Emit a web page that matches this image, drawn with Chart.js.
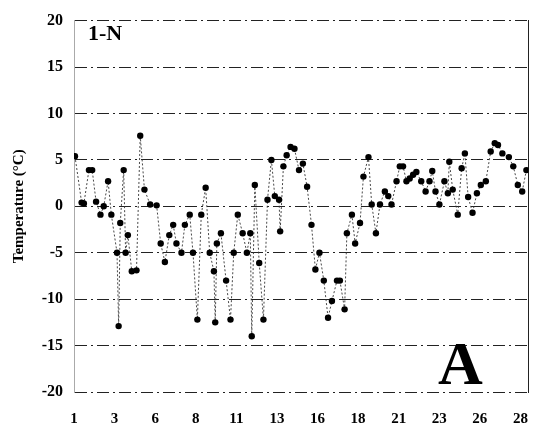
<!DOCTYPE html>
<html>
<head>
<meta charset="utf-8">
<script src="https://cdn.jsdelivr.net/npm/chart.js@4.4.1/dist/chart.umd.min.js"></script>
<style>
  body { margin: 0; background: #fff; }
  #wrap { width: 538px; height: 429px; }
</style>
</head>
<body>
<div id="wrap"><canvas id="grafik" width="538" height="429"></canvas></div>
<script>
// hari (sumbu x) dan suhu (°C)
const hari = [1.06, 1.47, 1.61, 1.92, 2.12, 2.36, 2.63, 2.83, 3.10, 3.30, 3.65, 3.75, 3.85, 4.06, 4.18, 4.32,
  4.56, 4.85, 5.08, 5.34, 5.69, 6.09, 6.34, 6.60, 6.87, 7.11, 7.31, 7.62, 7.83, 8.13, 8.33, 8.60,
  8.84, 9.11, 9.36, 9.62, 9.70, 9.80, 10.05, 10.37, 10.64, 10.84, 11.09, 11.39, 11.65, 11.86, 11.95,
  12.14, 12.41, 12.67, 12.92, 13.16, 13.37, 13.63, 13.70, 13.90, 14.10, 14.34, 14.58, 14.86, 15.10,
  15.36, 15.63, 15.87, 16.12, 16.39, 16.65, 16.89, 17.20, 17.38, 17.67, 17.81, 18.12, 18.32, 18.62,
  18.83, 19.14, 19.34, 19.60, 19.85, 20.15, 20.36, 20.56, 20.87, 21.07, 21.27, 21.48, 21.68, 21.89,
  22.09, 22.39, 22.66, 22.90, 23.07, 23.27, 23.51, 23.82, 24.03, 24.12, 24.33, 24.64, 24.88, 25.08,
  25.28, 25.55, 25.82, 26.06, 26.37, 26.67, 26.92, 27.12, 27.39, 27.79, 28.06, 28.34, 28.61, 28.87];
const suhu = [5.4, 0.4, 0.3, 3.9, 3.9, 0.5, -0.9, 0, 2.7, -0.9, -5, -12.9, -1.8, 3.9, -5, -3.1,
  -7, -6.9, 7.6, 1.8, 0.2, 0.1, -4, -6, -3.1, -2, -4, -5, -2, -0.9, -5, -12.2,
  -0.9, 2, -5, -7, -12.5, -4, -2.9, -8, -12.2, -5, -0.9, -2.9, -5, -2.9, -14,
  2.3, -6.1, -12.2, 0.7, 5, 1.1, 0.7, -2.7, 4.3, 5.5, 6.4, 6.2, 3.9, 4.6,
  2.1, -2, -6.8, -5, -8, -12, -10.2, -8, -8, -11.1, -2.9, -0.9, -4, -1.8,
  3.2, 5.3, 0.2, -2.9, 0.2, 1.6, 1.1, 0.2, 2.7, 4.3, 4.3, 2.7, 3, 3.4,
  3.7, 2.7, 1.6, 2.7, 3.8, 1.6, 0.2, 2.7, 1.4, 4.8, 1.8, -0.9, 4.1, 5.7,
  1, -0.7, 1.4, 2.3, 2.7, 5.9, 6.8, 6.6, 5.7, 5.3, 4.3, 2.3, 1.6, 3.9];

const posisiTickX = [1, 3.5, 6, 8.5, 11, 13.5, 16, 18.5, 21, 23.5, 26, 28.5];
const labelTickX = ['1', '3', '6', '8', '11', '13', '16', '18', '21', '23', '26', '28'];
const tickY = [20, 15, 10, 5, 0, -5, -10, -15, -20];

const fontSerif = 'Liberation Serif, Times New Roman, serif';

const teksPanel = {
  id: 'teksPanel',
  afterDraw(chart) {
    const ctx = chart.ctx;
    ctx.save();
    ctx.fillStyle = '#000';
    ctx.textAlign = 'left';
    ctx.textBaseline = 'alphabetic';
    ctx.font = 'bold 22px ' + fontSerif;
    ctx.fillText('1-N', 88, 40);
    ctx.font = 'bold 62px ' + fontSerif;
    ctx.fillText('A', 438, 384);
    ctx.restore();
  }
};

function gambarGrafik() {
  const grafik = document.getElementById('grafik').getContext('2d');
  const titik = hari.map((h, i) => ({ x: h, y: suhu[i] }));

  window.myChart = new Chart(grafik, {
    type: 'scatter',
    data: {
      datasets: [{
        label: 'Temperature',
        data: titik,
        showLine: true,
        borderColor: '#333',
        borderWidth: 0.9,
        borderDash: [2, 2],
        backgroundColor: '#000',
        pointRadius: 3.2,
        pointBorderWidth: 0,
        pointBackgroundColor: '#000'
      }]
    },
    options: {
      responsive: false,
      animation: false,
      layout: { padding: { top: 16, right: 0, left: 0, bottom: 0 } },
      plugins: { legend: { display: false }, tooltip: { enabled: false } },
      scales: {
        x: {
          type: 'linear',
          min: 1,
          max: 29,
          afterBuildTicks: (scale) => {
            scale.ticks = posisiTickX.map(v => ({ value: v }));
          },
          afterFit: (scale) => { scale.height = 37; },
          ticks: {
            color: '#000',
            padding: 10,
            font: { family: fontSerif, size: 15, weight: 'bold' },
            callback: (value, index) => labelTickX[index]
          },
          grid: { display: false },
          border: { display: false }
        },
        y: {
          min: -20,
          max: 20,
          afterBuildTicks: (scale) => {
            scale.ticks = tickY.map(v => ({ value: v }));
          },
          afterFit: (scale) => { scale.width = 74; },
          ticks: {
            color: '#000',
            padding: 11,
            font: { family: fontSerif, size: 16, weight: 'bold' }
          },
          title: {
            display: true,
            text: 'Temperature (°C)',
            color: '#000',
            padding: { top: 10, bottom: 0 },
            font: { family: fontSerif, size: 15, weight: 'bold' }
          },
          grid: { color: '#222', lineWidth: 1, drawTicks: false },
          border: { display: true, color: '#aaa', dash: [12, 4, 2, 4] }
        },
        kanan: {
          position: 'right',
          min: -20,
          max: 20,
          afterFit: (scale) => { scale.width = 5; },
          ticks: { display: false },
          grid: { display: false, drawTicks: false },
          border: { display: true, color: '#222', dash: [4, 3] }
        }
      }
    },
    plugins: [teksPanel]
  });
}

gambarGrafik();
</script>
</body>
</html>
